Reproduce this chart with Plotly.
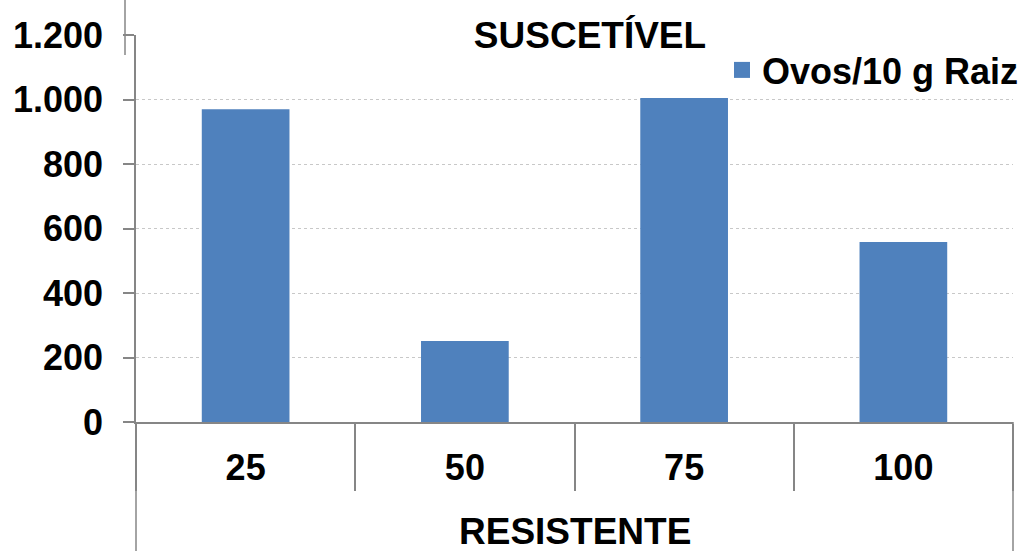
import plotly.graph_objects as go

categories = ["25", "50", "75", "100"]
ovos = [970, 251, 1005, 558]
y_ticks = [0, 200, 400, 600, 800, 1000, 1200]
series_name = "Ovos/10 g Raiz"
top_label = "SUSCETÍVEL"
bottom_label = "RESISTENTE"

FONT = "Liberation Sans, Arial, sans-serif"
AXIS = "#868686"
BAR = "#4f81bd"

W, H = 1024, 551
L, R, T, B = 136, 11, 35, 129
pw, ph = W - L - R, H - T - B

def px_x(px):
    return (px - L) / pw

def px_y(py):
    return (H - B - py) / ph

def bfont(size):
    return dict(family=FONT, size=size, color="black", weight="bold")

fig = go.Figure()
fig.add_trace(go.Bar(
    x=categories, y=ovos, name=series_name,
    marker=dict(color=BAR, line=dict(width=0)),
    width=0.4, showlegend=False,
))
# legend entry (square symbol like the reference)
fig.add_trace(go.Scatter(
    x=[None], y=[None], mode="markers", name=series_name,
    marker=dict(symbol="square", size=23, color=BAR),
    showlegend=True,
))

fig.update_layout(
    width=W, height=H,
    margin=dict(l=L, r=R, t=T, b=B, autoexpand=False),
    paper_bgcolor="white", plot_bgcolor="white",
    separators=",.",
    font=bfont(36),
    title=dict(text=top_label, x=590 / W, xanchor="center",
               y=1 - 35 / H, yanchor="middle", font=bfont(37)),
    showlegend=True,
    legend=dict(x=px_x(1024), xanchor="right", y=px_y(70), yanchor="middle",
                bgcolor="rgba(0,0,0,0)", font=bfont(36),
                itemsizing="trace", itemwidth=30),
)

fig.update_xaxes(
    type="category", showline=True, linecolor=AXIS, linewidth=1.5,
    ticks="outside", tickson="boundaries", ticklen=67, tickcolor=AXIS, tickwidth=1.5,
    tickfont=bfont(36), automargin=False,
    ticklabelstandoff=13,
    showgrid=False, zeroline=False, range=[-0.5, 3.5],
)
fig.update_yaxes(
    range=[0, 1200], tickvals=y_ticks, tickformat=",d",
    showline=True, linecolor=AXIS, linewidth=1.5,
    ticks="outside", ticklen=11, tickcolor=AXIS, tickwidth=1.5,
    tickfont=bfont(36), automargin=False,
    ticklabelstandoff=13,
    showgrid=True, gridcolor="#c8c8c8", griddash="dot", gridwidth=1,
    zeroline=False,
)

# group-label boundary lines
shape_line = dict(color=AXIS, width=1.5)
fig.add_shape(type="line", xref="paper", yref="paper", x0=0, x1=0,
              y0=0, y1=px_y(H), line=shape_line)
fig.add_shape(type="line", xref="paper", yref="paper", x0=1, x1=1,
              y0=0, y1=px_y(H), line=shape_line)
fig.add_shape(type="line", xref="paper", yref="paper", x0=px_x(125), x1=px_x(125),
              y0=px_y(55), y1=px_y(0), line=shape_line)

fig.add_annotation(text=bottom_label, xref="paper", yref="paper",
                   x=0.5, y=px_y(531), xanchor="center", yanchor="middle",
                   showarrow=False, font=bfont(37))

fig.write_html("out.html", config={"displayModeBar": False})

# remove the browser's default 8px body margin so the figure fills the window
with open("out.html", encoding="utf-8") as f:
    html = f.read()
html = html.replace("<body>", '<body style="margin:0;overflow:hidden">', 1)
with open("out.html", "w", encoding="utf-8") as f:
    f.write(html)
